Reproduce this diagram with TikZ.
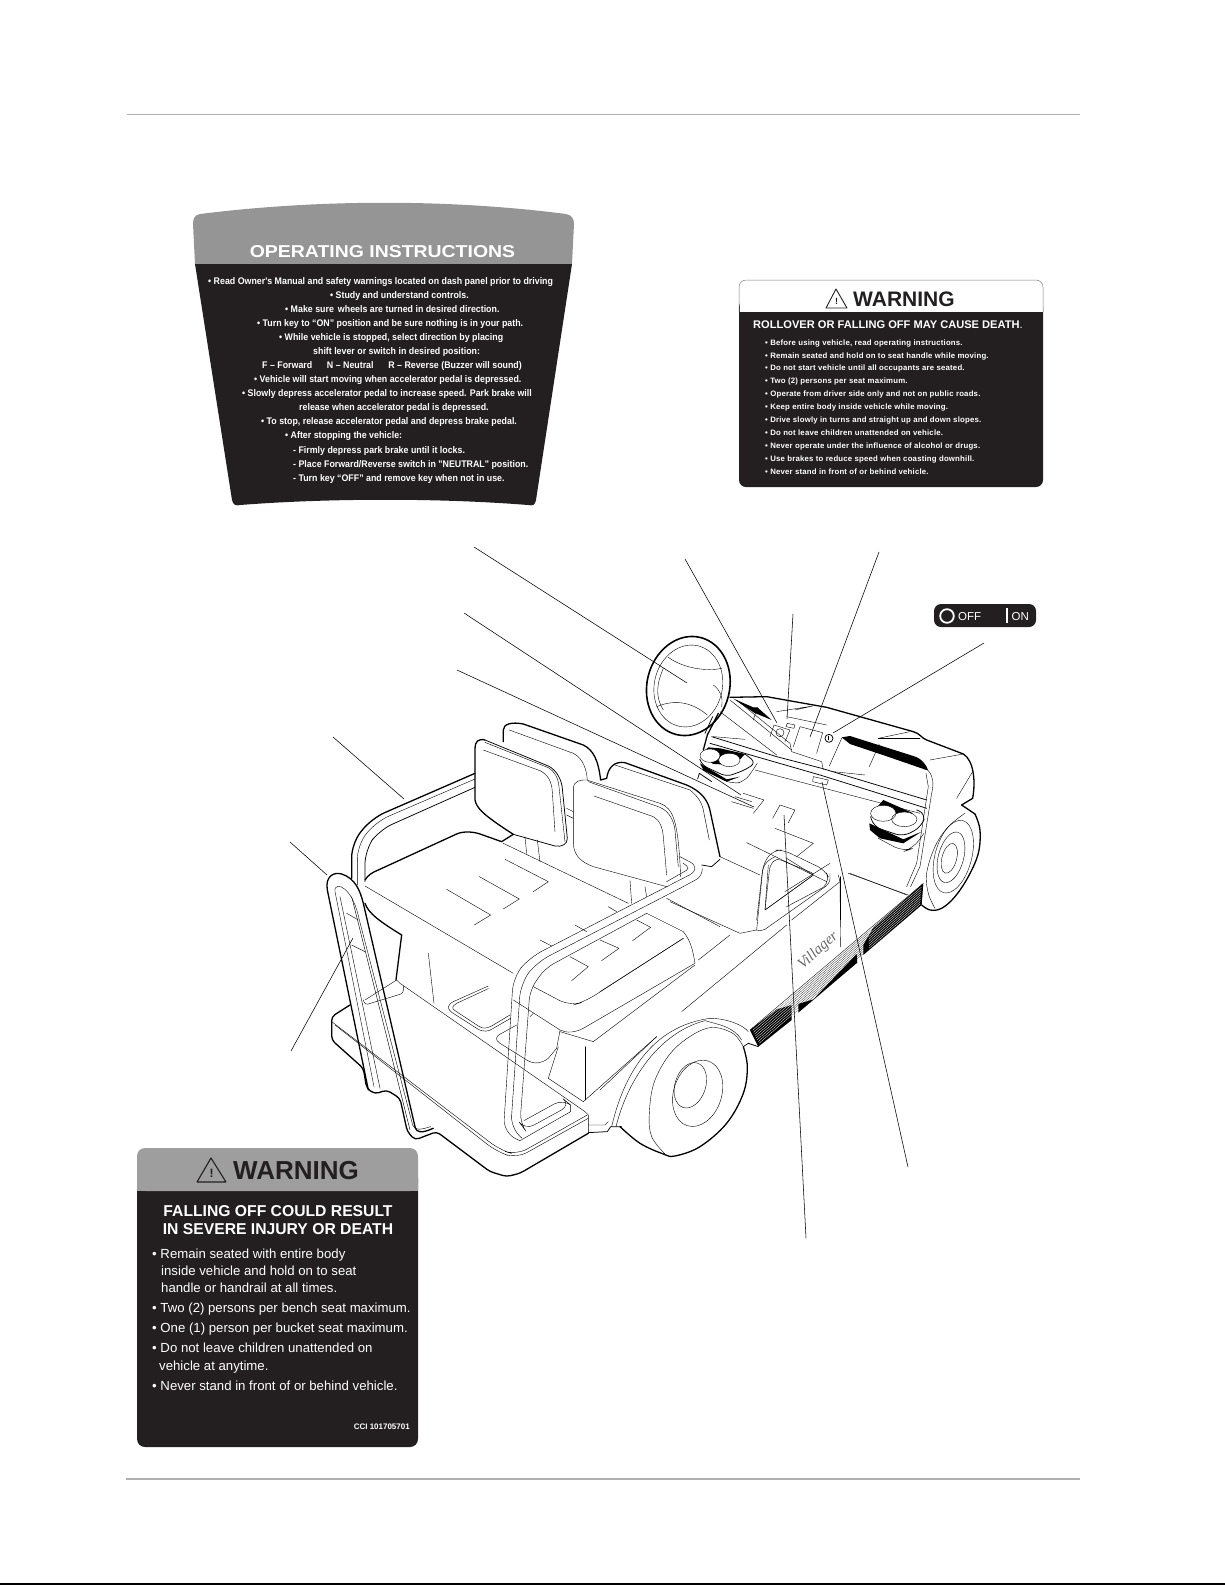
\documentclass[tikz,border=0pt]{standalone}
\usepackage{fontspec}
\setmainfont{Liberation Sans}
\newfontfamily\opfont[FakeStretch=0.92]{Liberation Sans}
\newfontfamily\widefont[FakeStretch=1.13]{Liberation Sans}
\newfontfamily\rollfont[LetterSpace=2.5]{Liberation Sans}
\newfontfamily\badgefont{Liberation Serif}
\usetikzlibrary{calc}
\definecolor{labelblack}{HTML}{231F20}
\definecolor{labelgray}{HTML}{959595}
\definecolor{pagerule}{HTML}{B0B0B0}
\tikzset{
  thinline/.style={line width=0.4pt,line join=round,line cap=round},
  midline/.style={line width=0.75pt,line join=round,line cap=round},
  heavyline/.style={line width=1.3pt,line join=round,line cap=round},
  leader/.style={line width=0.55pt},
  optext/.style={anchor=mid west,inner sep=0pt,text=white,font=\opfont\bfseries\fontsize{9.6}{11}\selectfont},
  rolltext/.style={anchor=mid west,inner sep=0pt,text=white,font=\rollfont\bfseries\fontsize{7.8}{9}\selectfont},
  falltext/.style={anchor=mid west,inner sep=0pt,text=white,font=\fontsize{13.2}{15}\selectfont},
}
\begin{document}
\begin{tikzpicture}[x=1pt,y=-1pt]
\useasboundingbox (0,0) rectangle (1225,1585);

% page rules
\draw[pagerule,line width=0.8pt] (127,114) -- (1080,114);
\draw[pagerule,line width=1.8pt] (126,1479) -- (1080,1479);
\draw[black,line width=1.5pt] (0,1584.2) -- (1225,1584.2);

% operating instructions decal
\fill[labelgray] (195,264) -- (193,224) .. controls (193,218) and (195,215) .. (200,214)
  .. controls (320,199) and (450,199) .. (566,214) .. controls (571,215) and (574,218) .. (574,224)
  -- (572,264) -- cycle;
\fill[labelblack] (195,264) -- (572,264) -- (536,500) .. controls (535,505) and (533,506) .. (528,505)
  .. controls (440,498) and (330,498) .. (240,505) .. controls (236,506) and (233,505) .. (232,500) -- cycle;
\node[inner sep=0pt,text=white,font=\widefont\bfseries\fontsize{17.2}{20}\selectfont] (optitle) at (382.5,252) {OPERATING INSTRUCTIONS};
\node[optext] (opA) at (208,282) {• Read Owner's Manual and safety warnings located on dash panel prior to driving};
\node[optext] (opB) at (330,296) {• Study and understand controls.};
\node[optext] (opC) at (285,310) {• Make sure\, wheels are turned in desired direction.};
\node[optext] (opD) at (257,324) {• Turn key to “ON” position and be sure nothing is in your path.};
\node[optext] (opE) at (279,338) {• While vehicle is stopped, select direction by placing};
\node[optext] (opF) at (313,352) {shift lever or switch in desired position:};
\node[optext] (opG) at (262,366) {F – Forward\quad\; N – Neutral\quad\; R – Reverse (Buzzer will sound)};
\node[optext] (opH) at (254,380) {• Vehicle will start moving when accelerator pedal is depressed.};
\node[optext] (opI) at (242,394) {• Slowly depress accelerator pedal to increase speed. Park brake will};
\node[optext] (opJ) at (299,408) {release when accelerator pedal is depressed.};
\node[optext] (opK) at (261,422) {• To stop, release accelerator pedal and depress brake pedal.};
\node[optext] (opL) at (285,436) {• After stopping the vehicle:};
\node[optext] (opM) at (293,451) {- Firmly depress park brake until it locks.};
\node[optext] (opN) at (293,465) {- Place Forward/Reverse switch in "NEUTRAL" position.};
\node[optext] (opO) at (293,479) {- Turn key “OFF” and remove key when not in use.};

% rollover warning decal
\fill[labelblack,rounded corners=7pt] (739,300) -- (739,487) -- (1043,487) -- (1043,300) -- cycle;
\fill[white] (739.5,280) rectangle (1042.5,312);
\draw[black!50,line width=0.5pt,rounded corners=7pt] (739,312) -- (739,280) -- (1043,280) -- (1043,312);
\fill[labelblack] (739,312) rectangle (1043,320);
\draw[labelblack,line width=0.9pt,line join=round] (836,289) -- (847,308) -- (826,308) -- cycle;
\node[inner sep=0pt,text=labelblack,font=\bfseries\fontsize{9}{10}\selectfont] (rollmark) at (836.5,301.5) {!};
\node[anchor=mid west,inner sep=0pt,text=labelblack,font=\bfseries\fontsize{21}{23}\selectfont] (rollhead) at (853,304) {WARNING};
\node[anchor=mid west,inner sep=0pt,text=white,font=\fontsize{11.1}{13}\selectfont] (rollsub) at (753,326) {\textbf{ROLLOVER OR FALLING OFF MAY CAUSE DEATH}.};
\node[rolltext] (rollA) at (765,343) {• Before using vehicle, read operating instructions.};
\node[rolltext] (rollB) at (765,356) {• Remain seated and hold on to seat handle while moving.};
\node[rolltext] (rollC) at (765,368) {• Do not start vehicle until all occupants are seated.};
\node[rolltext] (rollD) at (765,381) {• Two (2) persons per seat maximum.};
\node[rolltext] (rollE) at (765,394) {• Operate from driver side only and not on public roads.};
\node[rolltext] (rollF) at (765,407) {• Keep entire body inside vehicle while moving.};
\node[rolltext] (rollG) at (765,420) {• Drive slowly in turns and straight up and down slopes.};
\node[rolltext] (rollH) at (765,433) {• Do not leave children unattended on vehicle.};
\node[rolltext] (rollI) at (765,446) {• Never operate under the influence of alcohol or drugs.};
\node[rolltext] (rollJ) at (765,459) {• Use brakes to reduce speed when coasting downhill.};
\node[rolltext] (rollK) at (765,472) {• Never stand in front of or behind vehicle.};

% falling off warning decal
\fill[labelblack,rounded corners=8pt] (137,1170) -- (137,1447) -- (418,1447) -- (418,1170) -- cycle;
\fill[black!38,rounded corners=8pt] (137,1191) -- (137,1148) -- (418,1148) -- (418,1191) -- cycle;
\fill[black!38] (137,1180) rectangle (418,1191);
\draw[labelblack,line width=1.1pt,line join=round] (211,1158) -- (226,1182) -- (197,1182) -- cycle;
\node[inner sep=0pt,text=labelblack,font=\bfseries\fontsize{12}{13}\selectfont] (fallmark) at (211.5,1173) {!};
\node[anchor=mid west,inner sep=0pt,text=labelblack,font=\bfseries\fontsize{26}{28}\selectfont] (fallhead) at (233,1177) {WARNING};
\node[inner sep=0pt,text=white,font=\bfseries\fontsize{15.7}{18}\selectfont] (fallsubA) at (278,1211) {FALLING OFF COULD RESULT};
\node[inner sep=0pt,text=white,font=\bfseries\fontsize{15.7}{18}\selectfont] (fallsubB) at (278,1229) {IN SEVERE INJURY OR DEATH};
\node[falltext] (fallA) at (152,1256) {• Remain seated with entire body};
\node[falltext] (fallB) at (161,1273) {inside vehicle and hold on to seat};
\node[falltext] (fallC) at (161,1290) {handle or handrail at all times.};
\node[falltext] (fallD) at (152,1310) {• Two (2) persons per bench seat maximum.};
\node[falltext] (fallE) at (152,1330) {• One (1) person per bucket seat maximum.};
\node[falltext] (fallF) at (152,1350) {• Do not leave children unattended on};
\node[falltext] (fallG) at (159,1368) {vehicle at anytime.};
\node[falltext] (fallH) at (152,1388) {• Never stand in front of or behind vehicle.};
\node[anchor=mid east,inner sep=0pt,text=white,font=\bfseries\fontsize{8}{9}\selectfont] (fallcode) at (410,1427) {CCI 101705701};

% off on badge
\fill[labelblack,rounded corners=7pt] (934,604) rectangle (1036,627);
\draw[white,line width=1.8pt] (947,616) circle (6.8);
\node[anchor=mid west,inner sep=0pt,text=white,font=\fontsize{11.5}{13}\selectfont] (badgeoff) at (958,618) {OFF};
\draw[white,line width=1.2pt] (1007,608) -- (1007,623);
\node[anchor=mid west,inner sep=0pt,text=white,font=\fontsize{11.5}{13}\selectfont] (badgeon) at (1011.5,618) {ON};

% rear half of the cart
\begin{scope}[shift={(300,700)},x=0.3333pt,y=-0.3333pt]
% hoop behind the seat
\draw[heavyline,rounded corners=14pt] (525,220) -- (215,355) -- (155,430) -- (155,535);
\draw[thinline,rounded corners=14pt] (525,237) -- (228,365) -- (172,435) -- (172,555);
\draw[midline,rounded corners=14pt] (525,262) -- (238,390) -- (195,450) -- (195,545);
% seat backs
\draw[midline] (640,403) -- (765,438) .. controls (785,442) and (803,432) .. (802,415) -- (787,265)
  .. controls (785,240) and (770,210) .. (745,198) -- (555,120);
\draw[heavyline] (640,403) .. controls (550,345) and (530,325) .. (525,300) -- (525,145)
  .. controls (525,125) and (535,115) .. (555,120);
\draw[thinline] (550,150) -- (720,212) .. controls (745,225) and (755,245) .. (757,275) -- (765,395);
\draw[thinline] (555,127) -- (745,203) .. controls (765,215) and (775,235) .. (777,260) -- (795,425);
\draw[heavyline] (610,125) -- (610,90) .. controls (610,72) and (635,65) .. (670,72) -- (850,135)
  .. controls (880,150) and (895,180) .. (902,240) -- (920,235);
\draw[thinline] (628,90) -- (820,160) .. controls (850,175) and (860,210) .. (862,240);
\draw[thinline] (800,325) -- (820,335); \draw[thinline] (800,345) -- (820,355);
\draw[thinline] (1100,560) -- (880,500) .. controls (840,485) and (822,465) .. (820,430) -- (820,262)
  .. controls (822,245) and (840,238) .. (860,240) -- (1080,310) .. controls (1120,325) and (1135,360) .. (1142,530);
\draw[thinline] (882,288) -- (1060,350) .. controls (1080,360) and (1088,385) .. (1090,410) -- (1100,525);
\draw[thinline] (865,245) -- (1080,322) .. controls (1110,335) and (1122,365) .. (1125,390) -- (1135,500);
\draw[heavyline] (920,235) .. controls (925,200) and (945,183) .. (975,188) -- (1160,255)
  .. controls (1205,275) and (1225,300) .. (1232,340) -- (1260,470);
\draw[thinline] (945,195) -- (1170,270) .. controls (1195,290) and (1208,310) .. (1212,340) -- (1228,420);
\draw[midline] (1205,495) -- (1235,500) -- (1260,478);
% seat uprights
\draw[thinline] (675,410) -- (680,460); \draw[thinline] (712,420) -- (720,485);
\draw[thinline] (990,540) -- (995,610); \draw[thinline] (1035,560) -- (1040,590);
% rear cushion
\draw[heavyline] (195,540) .. controls (205,525) and (215,518) .. (235,510) -- (470,402)
  .. controls (490,393) and (520,395) .. (540,402) -- (605,425) -- (640,403);
\draw[thinline] (195,558) -- (640,820);
\draw[thinline] (610,430) -- (985,610);
\draw[thinline] (1040,640) -- (1150,695);
\draw[heavyline] (195,610) .. controls (205,640) and (240,665) .. (305,705) -- (288,840);
\draw[thinline] (615,478) -- (745,545) -- (700,575);
\draw[thinline] (538,530) -- (658,597) -- (610,627);
\draw[thinline] (440,568) -- (572,645) -- (523,675);
% side hoop
\draw[thinline,rounded corners=14pt] (1140,470) -- (1207,505) -- (690,772) -- (640,830) -- (610,1300) -- (660,1322);
\draw[thinline,rounded corners=6pt] (1207,505) -- (1205,530) -- (1140,565);
\draw[thinline,rounded corners=14pt] (1140,565) -- (710,787) -- (662,850) -- (632,1290) -- (660,1310);
\draw[thinline,rounded corners=4pt] (1150,490) -- (1170,505) -- (1100,545);
\draw[thinline,rounded corners=10pt] (1040,640) -- (735,805) -- (690,870) -- (660,1270) -- (675,1290) -- (812,1215) -- (790,1197) -- (672,1262);
\draw[thinline] (660,1322) -- (812,1235) -- (812,1215);
\draw[thinline] (1100,595) -- (1260,680);
% side cushion
\draw[thinline] (810,770) -- (865,800) -- (815,842);
\draw[thinline] (900,720) -- (957,745) -- (905,782);
\draw[thinline] (1010,660) -- (1052,682) -- (998,722);
\draw[thinline] (720,720) -- (755,738); \draw[thinline] (825,675) -- (860,695); \draw[thinline] (925,620) -- (950,635);
\draw[thinline,rounded corners=12pt] (700,860) -- (810,918) -- (855,905) -- (1150,715);
\draw[thinline] (1150,695) .. controls (1175,725) and (1180,760) .. (1185,790) -- (850,985)
  .. controls (825,998) and (800,1000) .. (780,990) -- (640,900);
\draw[thinline] (780,995) -- (880,1025) -- (1185,795);
\draw[thinline] (855,1040) -- (855,1200);
% under the seat
\draw[thinline] (385,760) -- (402,910);
\draw[thinline] (565,858) -- (460,905) .. controls (442,915) and (440,925) .. (455,937) -- (530,985)
  .. controls (550,998) and (565,995) .. (580,985) -- (632,955);
\draw[thinline] (565,866) -- (470,910) .. controls (455,920) and (455,925) .. (465,932) -- (535,978)
  .. controls (550,988) and (560,985) .. (575,978) -- (630,945);
\draw[thinline] (650,975) -- (605,1000) .. controls (585,1010) and (585,1020) .. (600,1030) -- (680,1080)
  .. controls (705,1095) and (725,1090) .. (745,1075) -- (770,1045) -- (780,992);
\draw[thinline] (700,940) -- (690,950);
\draw[thinline] (775,1040) -- (745,1135) -- (850,1205) -- (1070,1010);
% platform
\draw[heavyline,rounded corners=4pt] (150,915) -- (95,950) -- (95,1020) -- (190,1105) -- (200,1165) -- (225,1182) -- (260,1170) -- (300,1195) -- (322,1295) -- (345,1320) -- (410,1295) -- (570,1415) -- (620,1430) -- (660,1420) -- (865,1300);
\draw[thinline] (865,1300) -- (865,1245) -- (855,1235) -- (300,850) -- (290,840) -- (195,900);
\draw[thinline,rounded corners=3pt] (190,900) -- (195,915) -- (310,880) -- (310,858);
\draw[thinline,rounded corners=12pt] (95,965) -- (600,1350) -- (650,1365) -- (862,1245);
\draw[thinline,rounded corners=12pt] (105,975) -- (590,1355) -- (650,1375) -- (865,1255);
\draw[midline] (865,1298) -- (922,1295) -- (932,1280) -- (965,1280);
\draw[thinline] (865,1275) -- (915,1275) -- (925,1265);
% grab rail at the back
\draw[heavyline] (205,1170) -- (82,570) .. controls (75,530) and (100,515) .. (125,522)
  .. controls (165,535) and (180,570) .. (190,610) -- (345,1280) .. controls (350,1300) and (365,1300) .. (400,1285);
\draw[thinline] (222,1160) -- (105,575) .. controls (102,555) and (120,555) .. (135,568)
  .. controls (155,585) and (170,620) .. (178,660) -- (338,1275) .. controls (345,1292) and (360,1290) .. (392,1280);
\draw[thinline] (240,1165) -- (120,590);
\draw[thinline] (155,590) -- (330,1290);
\draw[thinline] (140,640) -- (175,660);
\draw[thinline] (155,735) -- (195,755);
\end{scope}

% tyre, arch and sill
\begin{scope}[shift={(600,850)},x=0.3333pt,y=-0.3333pt]
% sill stripe
\coordinate (sillA) at (450,540);
\coordinate (sillB) at (970,100);
\coordinate (sillC) at (475,590);
\coordinate (sillD) at (965,165);
\foreach \n in {1,...,9} \draw[line width=0.2pt] ($(sillA)!\n/10!(sillC)$) -- ($(sillB)!\n/10!(sillD)$);
\draw[line width=0.35pt] (sillA) -- (sillB);
\fill[black] (450,540) -- (530,478) -- (575,465) -- (575,510) -- (475,590) -- cycle;
\fill[black] (595,462) -- (640,448) -- (770,312) -- (772,338) -- (595,488) -- cycle;
\fill[black] (790,285) -- (820,232) -- (970,100) -- (965,165) -- (790,315) -- cycle;
\foreach \n in {1,...,8} {
  \draw[white,line width=0.3pt] ($($(sillA)!\n/9!(sillC)$)!0.01!($(sillB)!\n/9!(sillD)$)$) -- ($($(sillA)!\n/9!(sillC)$)!0.25!($(sillB)!\n/9!(sillD)$)$);
  \draw[white,line width=0.3pt] ($($(sillA)!\n/9!(sillC)$)!0.68!($(sillB)!\n/9!(sillD)$)$) -- ($($(sillA)!\n/9!(sillC)$)!0.99!($(sillB)!\n/9!(sillD)$)$);
}
% rear wheel
\draw[heavyline] plot[smooth,tension=0.6] coordinates {(60,830) (120,880) (190,912) (225,918) (300,890) (380,820) (430,730) (442,650) (430,590)};
\draw[thinline] plot[smooth,tension=0.6] coordinates {(195,912) (155,860) (148,790) (165,690) (225,595) (320,535) (395,548) (430,590)};
\draw[midline] (430,590) -- (445,580) -- (475,590);
\draw[thinline] (35,830) .. controls (70,680) and (150,530) .. (330,505) .. controls (380,505) and (430,525) .. (445,545);
\draw[thinline] (48,830) .. controls (80,700) and (170,550) .. (315,512) .. controls (360,525) and (400,530) .. (425,570);
\draw[thinline,rotate around={-18:(293,730)}] (293,730) ellipse (72 and 102);
\draw[thinline,rotate around={-18:(271,706)}] (271,706) ellipse (46 and 70);
\draw[thinline] (170,560) -- (0,720);
% lines on the side and floor
\draw[thinline] (390,255) -- (295,330);
\draw[thinline] (560,225) -- (245,485);
\draw[thinline] (250,265) -- (0,425);
\draw[thinline] (210,155) -- (420,250) -- (470,240);
\draw[thinline] (720,95) -- (722,290);
\draw[thinline] (715,75) -- (720,95) -- (575,210);
\draw[thinline] (745,70) -- (925,135);
\draw[thinline] (360,20) -- (480,75);
\draw[thinline,rounded corners=8pt] (470,240) -- (490,40) -- (525,20);
\draw[thinline,rounded corners=5pt] (470,240) -- (485,245) -- (690,100) -- (690,70);
\draw[thinline] (505,45) -- (495,180) -- (640,75) -- (560,25);
\draw[thinline] (555,125) -- (690,40);
% badge on the side
\node[rotate=42,inner sep=0pt,text=black!60,font=\badgefont\itshape\fontsize{15}{16}\selectfont] (sidebadge) at (655,303) {Villager};
\end{scope}

% front half of the cart
\begin{scope}[shift={(620,600)},x=0.3333pt,y=-0.3333pt]
% steering wheel
\draw[heavyline,line width=1.6pt,rotate around={-14:(205,258)}] (205,258) ellipse (124 and 150);
\draw[thinline,rotate around={-14:(205,258)}] (205,258) ellipse (102 and 124);
\draw[thinline] (145,172) .. controls (190,205) and (260,215) .. (305,205);
\draw[thinline] (110,320) .. controls (170,295) and (220,310) .. (262,345);
\draw[thinline] (130,205) .. controls (110,250) and (105,290) .. (130,330);
\draw[thinline] (280,255) .. controls (300,270) and (310,290) .. (305,320);
\draw[heavyline] (295,340) -- (262,405) -- (250,450);
\draw[midline] (278,350) -- (255,400);
% dash top
\draw[heavyline] (330,292) -- (440,290) -- (620,322) -- (880,395);
\draw[heavyline] (880,395) .. controls (900,400) and (905,415) .. (920,420) -- (1030,462) .. controls (1060,480) and (1068,540) .. (1058,595) -- (1025,615);
\fill[black] (340,296) -- (400,322) -- (412,322) -- (455,360) -- (402,338) -- cycle;
\fill[black] (665,412) -- (690,408) -- (880,468) .. controls (905,475) and (920,495) .. (925,512) -- (780,462) -- (690,432) -- cycle;
\draw[thinline] (400,360) -- (412,322);
\draw[thinline] (470,335) -- (578,318) -- (525,330);
\draw[thinline] (500,350) -- (620,375);
\draw[thinline] (775,415) -- (900,415);
\draw[thinline] (775,415) -- (870,395);
\draw[thinline] (778,432) -- (748,500);
\draw[thinline] (665,415) -- (628,498);
\draw[thinline] (925,512) .. controls (940,530) and (942,550) .. (935,580) -- (900,800) -- (872,860);
\draw[thinline] (918,520) -- (925,560) -- (890,790) -- (860,860);
\draw[thinline] (930,480) -- (1030,462);
\draw[thinline] (1058,515) -- (1010,595);
% pedestal and plates
\draw[thinline] (300,335) -- (470,465);
\draw[thinline] (330,300) -- (515,450);
\draw[thinline] (350,300) -- (510,430);
\draw[thinline] (510,430) -- (515,455) -- (605,485) -- (610,510);
\draw[thinline] (480,398) circle (12);
\draw[thinline] (450,410) -- (462,375) -- (510,390) -- (495,425);
\draw[thinline] (502,370) -- (525,375) -- (522,385) -- (498,380) -- cycle;
\draw[thinline] (520,440) -- (540,380) -- (608,398) -- (590,460);
\draw[midline] (627,415) circle (12);
\draw[thinline] (625,408) -- (625,420);
\draw[thinline] (640,515) -- (735,525);
\draw[thinline] (280,410) -- (375,418);
% dash lip
\draw[midline] (275,410) -- (470,470) -- (605,505) -- (920,600);
\draw[midline] (270,430) -- (600,525) -- (920,625);
\draw[thinline] (405,510) -- (480,530) -- (900,640);
\draw[thinline] (580,530) -- (625,540) -- (620,555) -- (578,545) -- cycle;
% left cup holder
\fill[black] (240,465) -- (265,442) -- (300,445) -- (375,462) -- (345,495) -- (280,492) -- cycle;
\fill[white] (270,467) ellipse (30 and 20);
\fill[white] (328,480) ellipse (32 and 20);
\draw[thinline] (270,467) ellipse (30 and 20);
\draw[thinline] (328,480) ellipse (32 and 20);
\draw[midline,rounded corners=6pt] (240,480) -- (245,495) -- (320,530) -- (375,510) -- (408,488) -- (375,462);
\fill[black] (240,490) -- (320,538) -- (360,530) -- (320,545) -- (250,510) -- cycle;
\draw[thinline,rounded corners=8pt] (250,510) -- (335,552) -- (375,545) -- (412,490);
\draw[midline] (233,537) -- (238,520) -- (275,545);
\draw[thinline] (335,605) -- (400,625);
\draw[thinline] (345,590) -- (395,605);
\draw[thinline] (400,640) -- (432,600) -- (370,580);
\draw[thinline] (458,655) -- (480,615) -- (525,630) -- (505,668);
% right cup holder
\fill[black] (755,640) -- (790,600) -- (880,640) -- (835,650) -- (780,660) -- cycle;
\fill[white] (790,640) ellipse (38 and 24);
\fill[white] (853,658) ellipse (38 and 22);
\draw[thinline] (790,640) ellipse (38 and 24);
\draw[thinline] (853,658) ellipse (38 and 22);
\draw[midline,rounded corners=8pt] (752,650) -- (760,680) -- (850,710) -- (905,680) -- (918,640) -- (890,630);
\fill[black] (748,670) -- (850,718) -- (905,695) -- (850,730) -- (780,715) -- (750,690) -- cycle;
\draw[thinline,rounded corners=10pt] (775,715) -- (850,755) -- (880,745) -- (912,700);
\draw[thinline] (690,820) -- (860,885);
% front wheel
\draw[heavyline] (1025,615) -- (1065,642);
\draw[heavyline] plot[smooth,tension=0.6] coordinates {(1065,642) (1080,690) (1075,760) (1045,830) (1005,890) (965,925) (930,930) (905,915)};
\draw[thinline] plot[smooth,tension=0.6] coordinates {(1035,640) (985,680) (945,740) (920,820) (925,880) (945,925)};
\draw[thinline,rotate around={-15:(1000,770)}] (1000,770) ellipse (55 and 112);
\draw[thinline,rotate around={-15:(993,772)}] (993,772) ellipse (38 and 78);
\draw[thinline,rotate around={-15:(988,775)}] (988,775) ellipse (22 and 46);
% side seat and rail
\draw[thinline] (380,728) -- (620,845);
\draw[thinline] (465,685) -- (580,730) -- (530,770);
\draw[thinline,rounded corners=8pt] (410,960) -- (430,790) -- (460,750) -- (490,750) -- (615,810) -- (630,840) -- (610,862);
\draw[thinline,rounded corners=4pt] (435,930) -- (450,795) -- (470,775) -- (585,822) -- (435,930);
\draw[thinline] (500,920) -- (610,862);
\draw[thinline] (660,830) -- (660,960);
\end{scope}

% leader lines
\coordinate (wheelFree) at (474,547);
\coordinate (wheelTip) at (687,683);
\coordinate (handleFree) at (464,613);
\coordinate (handleTip) at (741,795);
\coordinate (lidFree) at (457,670);
\coordinate (lidTip) at (754,807);
\coordinate (hoopFree) at (333,737);
\coordinate (hoopTip) at (404,799);
\coordinate (railFree) at (290,842);
\coordinate (railTip) at (327,875);
\coordinate (backFree) at (291,1051);
\coordinate (backTip) at (353,938);
\coordinate (keyFree) at (685,559);
\coordinate (keyTip) at (777,723);
\coordinate (slotFree) at (793,614);
\coordinate (slotTip) at (787,719);
\coordinate (plateFree) at (879,552);
\coordinate (plateTip) at (810,737);
\coordinate (switchFree) at (984,643);
\coordinate (switchTip) at (833,733);
\coordinate (lipFree) at (908,1167);
\coordinate (lipTip) at (822,782);
\coordinate (floorFree) at (806,1238);
\coordinate (floorTip) at (784,815);
\draw[leader] (wheelFree) -- (wheelTip);
\draw[leader] (handleFree) -- (handleTip);
\draw[leader] (lidFree) -- (lidTip);
\draw[leader] (hoopFree) -- (hoopTip);
\draw[leader] (railFree) -- (railTip);
\draw[leader] (backFree) -- (backTip);
\draw[leader] (keyFree) -- (keyTip);
\draw[leader] (slotFree) -- (slotTip);
\draw[leader] (plateFree) -- (plateTip);
\draw[leader] (switchFree) -- (switchTip);
\draw[leader] (lipFree) -- (lipTip);
\draw[leader] (floorFree) -- (floorTip);
\end{tikzpicture}
\end{document}
